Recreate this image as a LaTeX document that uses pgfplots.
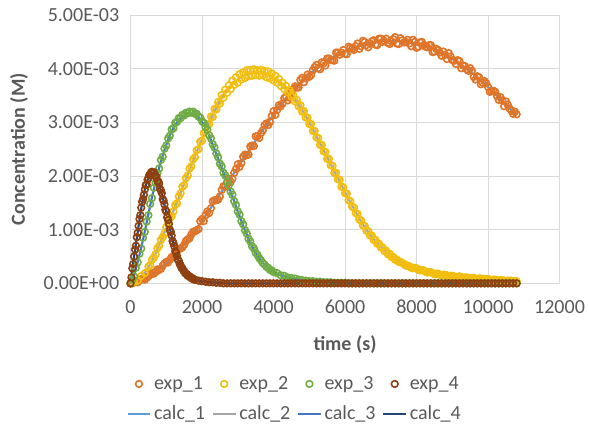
\documentclass[border=0pt]{standalone}
\usepackage{pgfplots}
\pgfplotsset{compat=1.18}
\usepackage{pgfplotstable}
\usepackage{fontspec}
\setmainfont{Carlito}
\definecolor{cOne}{HTML}{E07428}
\definecolor{cTwo}{HTML}{F2BE10}
\definecolor{cThree}{HTML}{70AD47}
\definecolor{cFour}{HTML}{8E4010}
\definecolor{lOne}{HTML}{5B9BD5}
\definecolor{lTwo}{HTML}{A5A5A5}
\definecolor{lThree}{HTML}{4472C4}
\definecolor{lFour}{HTML}{264478}
\definecolor{txt}{HTML}{595959}
\definecolor{grd}{HTML}{D9D9D9}

% concentrations in units of 1E-03 M
\pgfplotstableread{
t c e
0 0.00 0.00
50 0.01 0.00
100 0.01 0.02
150 0.02 0.03
200 0.03 0.02
250 0.04 0.05
300 0.06 0.08
350 0.07 0.08
400 0.09 0.07
450 0.11 0.10
500 0.13 0.13
550 0.15 0.16
600 0.17 0.19
650 0.19 0.18
700 0.22 0.21
750 0.24 0.26
800 0.27 0.25
850 0.29 0.27
900 0.32 0.33
950 0.35 0.37
1000 0.38 0.40
1050 0.41 0.39
1100 0.44 0.44
1150 0.47 0.49
1200 0.51 0.49
1250 0.54 0.53
1300 0.58 0.61
1350 0.61 0.64
1400 0.65 0.65
1450 0.69 0.67
1500 0.73 0.72
1550 0.77 0.79
1600 0.81 0.82
1650 0.85 0.84
1700 0.89 0.91
1750 0.93 0.96
1800 0.98 0.97
1850 1.02 0.99
1900 1.07 1.01
1950 1.11 1.16
2000 1.16 1.20
2050 1.21 1.16
2100 1.26 1.27
2150 1.31 1.34
2200 1.36 1.31
2250 1.41 1.40
2300 1.46 1.53
2350 1.51 1.55
2400 1.56 1.55
2450 1.61 1.56
2500 1.66 1.62
2550 1.71 1.74
2600 1.76 1.81
2650 1.81 1.80
2700 1.86 1.88
2750 1.91 1.95
2800 1.96 1.89
2850 2.01 1.95
2900 2.06 2.06
2950 2.11 2.13
3000 2.16 2.22
3050 2.21 2.17
3100 2.26 2.24
3150 2.31 2.36
3200 2.36 2.40
3250 2.41 2.39
3300 2.46 2.40
3350 2.51 2.55
3400 2.56 2.57
3450 2.61 2.56
3500 2.66 2.74
3550 2.71 2.74
3600 2.76 2.71
3650 2.81 2.80
3700 2.86 2.85
3750 2.91 2.95
3800 2.96 2.98
3850 3.00 2.95
3900 3.05 3.01
3950 3.09 3.12
4000 3.14 3.21
4050 3.18 3.14
4100 3.23 3.23
4150 3.27 3.32
4200 3.32 3.30
4250 3.36 3.35
4300 3.40 3.45
4350 3.44 3.48
4400 3.48 3.41
4450 3.52 3.46
4500 3.56 3.57
4550 3.59 3.62
4600 3.63 3.67
4650 3.66 3.65
4700 3.70 3.65
4750 3.73 3.79
4800 3.77 3.83
4850 3.80 3.75
4900 3.83 3.82
4950 3.86 3.89
5000 3.89 3.85
5050 3.92 3.88
5100 3.95 3.97
5150 3.97 4.03
5200 4.00 4.07
5250 4.02 4.01
5300 4.05 3.99
5350 4.07 4.12
5400 4.10 4.10
5450 4.12 4.06
5500 4.14 4.19
5550 4.16 4.19
5600 4.18 4.16
5650 4.20 4.16
5700 4.22 4.15
5750 4.24 4.30
5800 4.26 4.30
5850 4.27 4.26
5900 4.29 4.30
5950 4.30 4.35
6000 4.32 4.28
6050 4.33 4.27
6100 4.35 4.41
6150 4.36 4.39
6200 4.38 4.37
6250 4.39 4.35
6300 4.40 4.42
6350 4.41 4.47
6400 4.42 4.37
6450 4.43 4.42
6500 4.44 4.52
6550 4.45 4.50
6600 4.46 4.44
6650 4.46 4.40
6700 4.47 4.47
6750 4.48 4.51
6800 4.49 4.53
6850 4.49 4.45
6900 4.50 4.44
6950 4.50 4.56
7000 4.51 4.56
7050 4.51 4.50
7100 4.51 4.52
7150 4.51 4.56
7200 4.52 4.48
7250 4.52 4.46
7300 4.52 4.51
7350 4.52 4.55
7400 4.52 4.59
7450 4.51 4.47
7500 4.51 4.46
7550 4.51 4.57
7600 4.51 4.53
7650 4.50 4.49
7700 4.50 4.50
7750 4.49 4.54
7800 4.49 4.47
7850 4.48 4.42
7900 4.48 4.54
7950 4.47 4.50
8000 4.46 4.39
8050 4.45 4.41
8100 4.45 4.49
8150 4.44 4.50
8200 4.43 4.44
8250 4.42 4.41
8300 4.41 4.40
8350 4.40 4.44
8400 4.39 4.44
8450 4.37 4.31
8500 4.36 4.32
8550 4.34 4.37
8600 4.33 4.35
8650 4.31 4.30
8700 4.30 4.24
8750 4.28 4.32
8800 4.26 4.26
8850 4.24 4.18
8900 4.22 4.29
8950 4.20 4.23
9000 4.18 4.16
9050 4.16 4.15
9100 4.14 4.09
9150 4.12 4.16
9200 4.10 4.14
9250 4.07 4.01
9300 4.05 4.06
9350 4.02 4.05
9400 4.00 3.99
9450 3.97 3.96
9500 3.95 4.01
9550 3.92 3.96
9600 3.89 3.85
9650 3.86 3.80
9700 3.84 3.86
9750 3.81 3.84
9800 3.78 3.71
9850 3.75 3.74
9900 3.72 3.77
9950 3.69 3.73
10000 3.66 3.66
10050 3.63 3.57
10100 3.60 3.58
10150 3.56 3.59
10200 3.53 3.57
10250 3.50 3.49
10300 3.47 3.42
10350 3.43 3.47
10400 3.40 3.41
10450 3.36 3.30
10500 3.33 3.39
10550 3.30 3.33
10600 3.27 3.26
10650 3.23 3.22
10700 3.20 3.16
10750 3.16 3.20
10800 3.13 3.15
}\tabOne

\pgfplotstableread{
t c e
0 0.00 0.00
100 0.02 0.03
200 0.06 0.05
300 0.12 0.14
400 0.20 0.19
500 0.30 0.31
550 0.36 0.34
600 0.42 0.44
650 0.49 0.48
700 0.56 0.54
750 0.63 0.65
800 0.71 0.70
850 0.79 0.81
900 0.87 0.86
950 0.95 0.93
1000 1.03 1.05
1050 1.11 1.10
1100 1.19 1.22
1150 1.27 1.25
1200 1.35 1.34
1250 1.43 1.46
1300 1.52 1.49
1350 1.60 1.62
1400 1.69 1.68
1450 1.77 1.80
1500 1.86 1.83
1550 1.94 1.96
1600 2.03 2.01
1650 2.11 2.14
1700 2.20 2.18
1750 2.28 2.31
1800 2.37 2.35
1850 2.45 2.48
1900 2.53 2.50
1950 2.61 2.64
2000 2.69 2.66
2050 2.77 2.80
2100 2.85 2.83
2150 2.92 2.96
2200 3.00 2.97
2250 3.07 3.11
2300 3.14 3.10
2350 3.21 3.25
2400 3.27 3.24
2450 3.33 3.38
2500 3.39 3.35
2550 3.45 3.51
2600 3.50 3.46
2650 3.55 3.61
2700 3.59 3.55
2750 3.63 3.69
2800 3.67 3.62
2850 3.71 3.78
2900 3.74 3.70
2950 3.77 3.84
3000 3.80 3.74
3050 3.83 3.90
3100 3.85 3.80
3150 3.87 3.93
3200 3.88 3.83
3250 3.90 3.97
3300 3.91 3.86
3350 3.92 3.98
3400 3.92 3.87
3450 3.93 3.99
3500 3.93 3.88
3550 3.93 3.97
3600 3.93 3.87
3650 3.93 3.98
3700 3.92 3.88
3750 3.91 3.96
3800 3.90 3.84
3850 3.89 3.95
3900 3.87 3.82
3950 3.85 3.91
4000 3.83 3.78
4050 3.81 3.87
4100 3.78 3.74
4150 3.75 3.81
4200 3.72 3.68
4250 3.69 3.74
4300 3.66 3.62
4350 3.63 3.68
4400 3.59 3.56
4450 3.55 3.60
4500 3.51 3.48
4550 3.47 3.51
4600 3.42 3.39
4650 3.38 3.42
4700 3.33 3.30
4750 3.28 3.32
4800 3.23 3.20
4850 3.18 3.21
4900 3.12 3.09
4950 3.06 3.09
5000 3.00 2.97
5050 2.94 2.97
5100 2.87 2.84
5150 2.81 2.84
5200 2.74 2.72
5250 2.68 2.71
5300 2.61 2.58
5350 2.55 2.58
5400 2.48 2.46
5450 2.42 2.45
5500 2.35 2.32
5550 2.29 2.32
5600 2.22 2.20
5650 2.16 2.19
5700 2.09 2.06
5750 2.03 2.06
5800 1.96 1.94
5850 1.90 1.93
5900 1.83 1.80
5950 1.77 1.79
6000 1.70 1.68
6050 1.64 1.67
6100 1.57 1.55
6150 1.51 1.53
6200 1.45 1.43
6250 1.39 1.41
6300 1.33 1.31
6350 1.27 1.29
6400 1.21 1.19
6450 1.15 1.17
6500 1.10 1.08
6550 1.05 1.07
6600 1.00 0.98
6650 0.95 0.97
6700 0.91 0.89
6750 0.87 0.89
6800 0.83 0.81
6850 0.79 0.81
6900 0.76 0.74
6950 0.72 0.74
7000 0.69 0.67
7050 0.65 0.67
7100 0.62 0.60
7150 0.59 0.61
7200 0.56 0.54
7250 0.53 0.55
7300 0.50 0.49
7350 0.48 0.49
7400 0.45 0.44
7450 0.43 0.44
7500 0.41 0.40
7550 0.39 0.40
7600 0.37 0.38
7650 0.35 0.36
7700 0.34 0.33
7750 0.32 0.33
7800 0.31 0.32
7850 0.30 0.29
7900 0.29 0.28
7950 0.28 0.29
8000 0.27 0.28
8050 0.26 0.25
8100 0.25 0.24
8150 0.24 0.25
8200 0.23 0.24
8250 0.22 0.22
8300 0.21 0.20
8350 0.20 0.21
8400 0.20 0.21
8450 0.19 0.19
8500 0.18 0.17
8550 0.17 0.18
8600 0.17 0.18
8650 0.16 0.16
8700 0.16 0.15
8750 0.15 0.16
8800 0.15 0.16
8850 0.14 0.15
8900 0.14 0.13
8950 0.13 0.14
9000 0.13 0.14
9050 0.12 0.13
9100 0.12 0.11
9150 0.12 0.12
9200 0.12 0.13
9250 0.11 0.12
9300 0.11 0.10
9350 0.10 0.11
9400 0.10 0.11
9450 0.10 0.10
9500 0.10 0.09
9550 0.09 0.10
9600 0.09 0.10
9650 0.09 0.09
9700 0.09 0.08
9750 0.08 0.09
9800 0.08 0.09
9850 0.08 0.08
9900 0.08 0.07
9950 0.07 0.08
10000 0.07 0.08
10050 0.07 0.07
10100 0.07 0.06
10150 0.06 0.07
10200 0.06 0.07
10250 0.06 0.06
10300 0.06 0.05
10350 0.05 0.06
10400 0.05 0.06
10450 0.05 0.05
10500 0.05 0.04
10550 0.05 0.05
10600 0.05 0.05
10650 0.04 0.05
10700 0.04 0.04
10750 0.04 0.04
10800 0.04 0.04
}\tabTwo

\pgfplotstableread{
t c e
0 0.00 0.00
50 0.06 0.07
100 0.15 0.13
150 0.27 0.29
200 0.40 0.39
250 0.53 0.55
300 0.67 0.65
350 0.82 0.85
400 0.97 0.96
450 1.13 1.15
500 1.29 1.27
550 1.45 1.48
600 1.60 1.59
650 1.75 1.78
700 1.89 1.87
750 2.02 2.05
800 2.15 2.14
850 2.27 2.30
900 2.38 2.36
950 2.48 2.51
1000 2.58 2.57
1050 2.67 2.70
1100 2.76 2.75
1150 2.83 2.87
1200 2.90 2.89
1250 2.95 2.99
1300 3.00 3.01
1350 3.04 3.08
1400 3.07 3.08
1450 3.10 3.14
1500 3.12 3.13
1550 3.14 3.18
1600 3.15 3.17
1650 3.16 3.20
1700 3.16 3.18
1750 3.15 3.20
1800 3.14 3.16
1850 3.12 3.16
1900 3.09 3.11
1950 3.05 3.09
2000 3.01 3.02
2050 2.96 2.99
2100 2.90 2.91
2150 2.83 2.86
2200 2.75 2.76
2250 2.67 2.70
2300 2.58 2.59
2350 2.50 2.53
2400 2.41 2.42
2450 2.32 2.35
2500 2.23 2.23
2550 2.15 2.18
2600 2.06 2.06
2650 1.98 2.01
2700 1.89 1.89
2750 1.80 1.83
2800 1.71 1.71
2850 1.62 1.65
2900 1.53 1.53
2950 1.43 1.46
3000 1.34 1.34
3050 1.25 1.28
3100 1.16 1.16
3150 1.07 1.10
3200 0.99 0.99
3250 0.91 0.93
3300 0.83 0.83
3350 0.76 0.78
3400 0.69 0.69
3450 0.63 0.65
3500 0.57 0.57
3550 0.52 0.53
3600 0.47 0.47
3650 0.42 0.43
3700 0.38 0.38
3750 0.34 0.35
3800 0.31 0.31
3850 0.28 0.29
3900 0.25 0.25
3950 0.23 0.24
4000 0.21 0.21
4100 0.18 0.19
4200 0.15 0.15
4300 0.13 0.14
4400 0.11 0.11
4500 0.10 0.10
4600 0.08 0.09
4700 0.07 0.07
4800 0.06 0.06
4900 0.05 0.05
5000 0.04 0.04
5100 0.04 0.04
5200 0.03 0.03
5300 0.03 0.03
5400 0.02 0.02
5500 0.02 0.02
5600 0.02 0.02
5700 0.01 0.01
5800 0.01 0.01
5900 0.01 0.01
6000 0.01 0.01
6100 0 0
6200 0 0
6300 0 0
6400 0 0
6500 0 0
6600 0 0
6700 0 0
6800 0 0
6900 0 0
7000 0 0
7100 0 0
7200 0 0
7300 0 0
7400 0 0
7500 0 0
7600 0 0
7700 0 0
7800 0 0
7900 0 0
8000 0 0
8100 0 0
8200 0 0
8300 0 0
8400 0 0
8500 0 0
8600 0 0
8700 0 0
8800 0 0
8900 0 0
9000 0 0
9100 0 0
9200 0 0
9300 0 0
9400 0 0
9500 0 0
9600 0 0
9700 0 0
9800 0 0
9900 0 0
10000 0 0
10100 0 0
10200 0 0
10300 0 0
10400 0 0
10500 0 0
10600 0 0
10700 0 0
10800 0 0
}\tabThree

\pgfplotstableread{
t c e
0 0.00 0.00
25 0.12 0.11
50 0.25 0.28
75 0.38 0.36
100 0.50 0.50
125 0.62 0.63
150 0.73 0.70
175 0.84 0.86
200 0.95 0.94
225 1.07 1.07
250 1.18 1.20
275 1.29 1.27
300 1.40 1.41
325 1.49 1.52
350 1.58 1.57
375 1.67 1.65
400 1.75 1.75
425 1.81 1.83
450 1.87 1.84
475 1.92 1.93
500 1.97 1.96
525 2.00 2.02
550 2.03 2.01
575 2.05 2.07
600 2.06 2.08
625 2.06 2.05
650 2.05 2.07
675 2.03 2.02
700 2.00 1.99
725 1.97 1.99
750 1.93 1.91
775 1.89 1.90
800 1.84 1.86
825 1.78 1.76
850 1.72 1.73
875 1.66 1.68
900 1.60 1.57
925 1.53 1.54
950 1.46 1.47
975 1.39 1.37
1000 1.32 1.34
1025 1.24 1.23
1050 1.17 1.18
1075 1.09 1.11
1100 1.02 1.00
1125 0.95 0.96
1150 0.88 0.89
1175 0.81 0.79
1200 0.74 0.75
1225 0.68 0.69
1250 0.62 0.60
1275 0.56 0.57
1300 0.50 0.51
1325 0.45 0.44
1350 0.41 0.42
1375 0.37 0.36
1400 0.33 0.34
1425 0.30 0.29
1450 0.27 0.28
1475 0.24 0.24
1500 0.22 0.23
1525 0.20 0.19
1550 0.18 0.18
1575 0.16 0.17
1600 0.15 0.14
1625 0.14 0.14
1650 0.12 0.13
1675 0.11 0.11
1700 0.10 0.10
1725 0.09 0.10
1750 0.08 0.08
1775 0.08 0.07
1800 0.07 0.07
1900 0.05 0.05
2000 0.04 0.04
2100 0.03 0.03
2200 0.02 0.02
2300 0.02 0.02
2400 0.01 0.01
2500 0.01 0.01
2600 0 0
2700 0 0
2800 0 0
2900 0 0
3000 0 0
3100 0 0
3200 0 0
3300 0 0
3400 0 0
3500 0 0
3600 0 0
3700 0 0
3800 0 0
3900 0 0
4000 0 0
4100 0 0
4200 0 0
4300 0 0
4400 0 0
4500 0 0
4600 0 0
4700 0 0
4800 0 0
4900 0 0
5000 0 0
5100 0 0
5200 0 0
5300 0 0
5400 0 0
5500 0 0
5600 0 0
5700 0 0
5800 0 0
5900 0 0
6000 0 0
6100 0 0
6200 0 0
6300 0 0
6400 0 0
6500 0 0
6600 0 0
6700 0 0
6800 0 0
6900 0 0
7000 0 0
7100 0 0
7200 0 0
7300 0 0
7400 0 0
7500 0 0
7600 0 0
7700 0 0
7800 0 0
7900 0 0
8000 0 0
8100 0 0
8200 0 0
8300 0 0
8400 0 0
8500 0 0
8600 0 0
8700 0 0
8800 0 0
8900 0 0
9000 0 0
9100 0 0
9200 0 0
9300 0 0
9400 0 0
9500 0 0
9600 0 0
9700 0 0
9800 0 0
9900 0 0
10000 0 0
10100 0 0
10200 0 0
10300 0 0
10400 0 0
10500 0 0
10600 0 0
10700 0 0
10800 0 0
}\tabFour

\begin{document}
\begin{tikzpicture}[font=\fontsize{15}{18}\selectfont]
\path[use as bounding box] (-97.9pt,-106.25pt) rectangle (343.85pt,212.5pt);
\begin{axis}[
  at={(0,0)}, anchor=south west, scale only axis,
  width=321.75pt, height=201.2pt,
  xmin=0, xmax=12000, ymin=0, ymax=5,
  xtick={0,2000,4000,6000,8000,10000,12000},
  ytick={0,1,2,3,4,5},
  scaled x ticks=false,
  yticklabels={0.00E+00,1.00E-03,2.00E-03,3.00E-03,4.00E-03,5.00E-03},
  axis line style={draw=none},
  major tick length=0pt,
  grid=major,
  major grid style={draw=grd, line width=0.75pt},
  tick label style={text=txt},
  yticklabel style={xshift=-5pt},
  xticklabel style={yshift=-9pt},
  /pgf/number format/assume math mode=true,
  /pgf/number format/1000 sep={},
  xlabel={\textbf{time (s)}},
  ylabel={\textbf{Concentration (M)}},
  label style={text=txt},
  x label style={at={(axis description cs:0.5,-0.2301)}, anchor=center},
  y label style={at={(axis description cs:-0.2598,0.5)}, anchor=center},
  clip=false,
  legend columns=4,
  legend cell align=left,
  legend style={at={(axis description cs:0.3834,-0.432)}, anchor=center,
    draw=none, fill=none, text=txt, row sep=7pt,
    /tikz/every even column/.append style={column sep=3pt}},
]
\addplot[only marks, mark=o, cOne, line width=1.2pt, mark size=2.5pt] table[x=t,y=e]{\tabOne};
\addlegendentry{exp\_1}
\addplot[only marks, mark=o, cTwo, line width=1.2pt, mark size=2.5pt] table[x=t,y=e]{\tabTwo};
\addlegendentry{exp\_2}
\addplot[only marks, mark=o, cThree, line width=1.2pt, mark size=2.5pt] table[x=t,y=e]{\tabThree};
\addlegendentry{exp\_3}
\addplot[only marks, mark=o, cFour, line width=1.2pt, mark size=2.5pt] table[x=t,y=e]{\tabFour};
\addlegendentry{exp\_4}
\addplot[no marks, lOne, line width=1.6pt] table[x=t,y=c]{\tabOne};
\addlegendentry{calc\_1}
\addplot[no marks, lTwo, line width=1.6pt] table[x=t,y=c]{\tabTwo};
\addlegendentry{calc\_2}
\addplot[no marks, lThree, line width=1.6pt] table[x=t,y=c]{\tabThree};
\addlegendentry{calc\_3}
\addplot[no marks, lFour, line width=1.6pt] table[x=t,y=c]{\tabFour};
\addlegendentry{calc\_4}
\end{axis}
\end{tikzpicture}
\end{document}
